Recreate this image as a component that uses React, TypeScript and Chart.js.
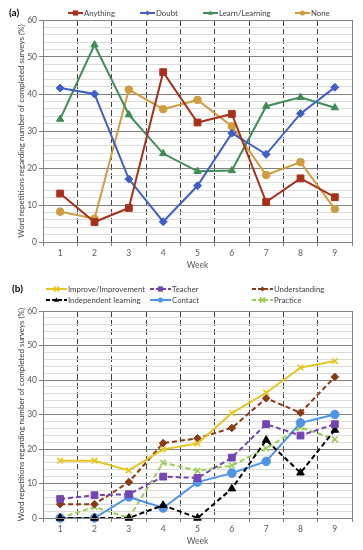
import React, { useEffect, useRef } from 'react';
import { Chart, registerables } from 'chart.js';

Chart.register(...registerables);

const FONT = 'Lato, "Liberation Sans", sans-serif';

// ---------- DATA ----------
const weeks = ['1', '2', '3', '4', '5', '6', '7', '8', '9'];

// Panel (a)
const anything = [13.1, 5.4, 9.2, 45.9, 32.3, 34.6, 10.8, 17.2, 12.1];
const doubt = [41.6, 40.0, 17.0, 5.5, 15.2, 29.4, 23.7, 34.7, 41.8];
const learning = [33.2, 53.3, 34.4, 23.9, 19.1, 19.3, 36.7, 39.1, 36.3];
const noneVals = [8.2, 6.3, 41.2, 35.9, 38.4, 31.3, 18.1, 21.6, 8.9];

// Panel (b)
const improve = [16.6, 16.6, 13.8, 19.9, 21.6, 30.4, 36.3, 43.6, 45.5];
const teacher = [5.5, 6.6, 6.9, 12.0, 11.6, 17.5, 27.2, 23.9, 27.2];
const understanding = [4.0, 4.0, 10.4, 21.7, 23.1, 26.1, 34.7, 30.5, 40.9];
const independent = [0, 0, 0, 3.7, 0, 8.5, 22.6, 13.1, 25.5];
const contact = [0, 0, 6.1, 2.9, 10.4, 13.0, 16.4, 27.6, 30.0];
const practice = [0, 3.2, 0, 16.0, 13.7, 15.2, 20.2, 26.3, 22.8];

const yTitle = 'Word repetitions regarding number of completed surveys (%)';

// ---------- helpers ----------
function drawMarker(ctx: CanvasRenderingContext2D, style: string, x: number, y: number, r: number, color: string) {
  ctx.save();
  ctx.setLineDash([]);
  ctx.fillStyle = color;
  ctx.strokeStyle = color;
  ctx.lineWidth = 1.5;
  ctx.beginPath();
  if (style === 'rect') {
    ctx.rect(x - r, y - r, 2 * r, 2 * r);
    ctx.fill();
  } else if (style === 'rectRot') {
    ctx.moveTo(x, y - r);
    ctx.lineTo(x + r, y);
    ctx.lineTo(x, y + r);
    ctx.lineTo(x - r, y);
    ctx.closePath();
    ctx.fill();
  } else if (style === 'triangle') {
    ctx.moveTo(x, y - r);
    ctx.lineTo(x + r * 0.95, y + r * 0.7);
    ctx.lineTo(x - r * 0.95, y + r * 0.7);
    ctx.closePath();
    ctx.fill();
  } else if (style === 'circle') {
    ctx.arc(x, y, r, 0, Math.PI * 2);
    ctx.fill();
  } else {
    ctx.moveTo(x - r, y - r);
    ctx.lineTo(x + r, y + r);
    ctx.moveTo(x + r, y - r);
    ctx.lineTo(x - r, y + r);
    ctx.stroke();
  }
  ctx.restore();
}

const customLegend = {
  id: 'customLegend',
  afterDraw(chart: any, _args: any, opts: any) {
    const ctx: CanvasRenderingContext2D = chart.ctx;
    ctx.save();
    ctx.textBaseline = 'middle';
    ctx.font = `bold 10px ${FONT}`;
    ctx.fillStyle = '#000';
    ctx.textAlign = 'left';
    ctx.fillText(opts.panel, opts.panelX, opts.panelY);
    ctx.font = `7.8px ${FONT}`;
    opts.items.forEach((it: any, i: number) => {
      const ds = chart.data.datasets[i];
      const w = opts.symbolWidth;
      ctx.save();
      ctx.strokeStyle = ds.borderColor;
      ctx.lineWidth = 2;
      ctx.setLineDash(ds.borderDash ? [4, 2] : []);
      ctx.beginPath();
      ctx.moveTo(it.x, it.y);
      ctx.lineTo(it.x + w, it.y);
      ctx.stroke();
      ctx.restore();
      drawMarker(ctx, ds.pointStyle, it.x + w / 2, it.y, 2.6, ds.pointBackgroundColor);
      ctx.fillStyle = '#404040';
      ctx.fillText(ds.label, it.x + w + 1, it.y);
    });
    ctx.restore();
  },
};

const frame = {
  id: 'frame',
  afterDatasetsDraw(chart: any) {
    const { ctx, chartArea: a } = chart;
    ctx.save();
    ctx.strokeStyle = '#808080';
    ctx.lineWidth = 1;
    ctx.strokeRect(Math.round(a.left) + 0.5, Math.round(a.top) + 0.5, Math.round(a.right - a.left), Math.round(a.bottom - a.top));
    ctx.restore();
  },
};

function ds(label: string, data: number[], color: string, style: string, radius: number, dashed: boolean) {
  return {
    label,
    data,
    borderColor: color,
    backgroundColor: color,
    pointBackgroundColor: color,
    pointBorderColor: color,
    pointStyle: style,
    pointRadius: radius,
    pointBorderWidth: style === 'crossRot' ? 1.6 : 1,
    borderWidth: 2,
    borderDash: dashed ? [5, 3] : undefined,
    tension: 0,
    clip: false as any,
  };
}

function makeOptions(padTop: number, padBottom: number, legendOpts: any) {
  return {
    responsive: false,
    animation: false as const,
    layout: { padding: { top: padTop, right: 11, left: 0, bottom: padBottom } },
    plugins: {
      legend: { display: false },
      tooltip: { enabled: false },
      customLegend: legendOpts,
    },
    scales: {
      x: {
        type: 'category' as const,
        offset: true,
        grid: {
          offset: true,
          color: '#404040',
          lineWidth: 1,
          drawTicks: true,
          tickLength: 4,
          tickColor: '#808080',
        },
        border: { dash: [6, 3], color: '#808080' },
        ticks: { color: '#595959', font: { family: FONT, size: 8.5 }, padding: 2, maxRotation: 0 },
        title: { display: true, text: 'Week', color: '#595959', font: { family: FONT, size: 8.5 }, padding: { top: 0, bottom: 0 } },
        afterFit: (s: any) => {
          s.height = 28;
        },
      },
      y: {
        min: 0,
        max: 60,
        ticks: {
          stepSize: 2,
          autoSkip: false,
          color: '#595959',
          font: { family: FONT, size: 8.5 },
          padding: 2,
          callback: (v: any) => (Number(v) % 10 === 0 ? String(v) : ''),
        },
        grid: {
          color: (c: any) => (c.tick && c.tick.value % 10 === 0 ? '#808080' : '#dcdcdc'),
          lineWidth: 1,
          tickLength: 4,
          tickColor: (c: any) => (c.tick && c.tick.value % 10 === 0 ? '#808080' : 'rgba(0,0,0,0)'),
        },
        border: { color: '#808080' },
        title: {
          display: true,
          text: yTitle,
          color: '#404040',
          font: { family: FONT, size: 8 },
          padding: { top: 16.5, bottom: 0 },
        },
        afterFit: (s: any) => {
          s.width = 43;
        },
      },
    },
  };
}

function PanelA() {
  const ref = useRef<HTMLCanvasElement>(null);
  useEffect(() => {
    const chart = new Chart(ref.current!, {
      type: 'line',
      data: {
        labels: weeks,
        datasets: [
          ds('Anything', anything, '#a8301a', 'rect', 4.8, false),
          ds('Doubt', doubt, '#3f5fc6', 'rectRot', 4, false),
          ds('Learn/Learning', learning, '#3f8c55', 'triangle', 4.2, false),
          ds('None', noneVals, '#d09c40', 'circle', 3.8, false),
        ],
      },
      options: makeOptions(20, 0, {
        panel: '(a)',
        panelX: 9,
        panelY: 13,
        symbolWidth: 15,
        items: [
          { x: 68, y: 13 },
          { x: 140, y: 13 },
          { x: 203, y: 13 },
          { x: 295, y: 13 },
        ],
      }) as any,
      plugins: [customLegend, frame],
    });
    return () => chart.destroy();
  }, []);
  return <canvas ref={ref} width={363} height={270} style={{ position: 'absolute', left: 0, top: 0, width: 363, height: 270 }} />;
}

function PanelB() {
  const ref = useRef<HTMLCanvasElement>(null);
  useEffect(() => {
    const chart = new Chart(ref.current!, {
      type: 'line',
      data: {
        labels: weeks,
        datasets: [
          ds('Improve/Improvement', improve, '#e6c620', 'crossRot', 4, false),
          ds('Teacher', teacher, '#7444b0', 'rect', 4.8, true),
          ds('Understanding', understanding, '#8a3a14', 'rectRot', 3.8, true),
          ds('Independent learning', independent, '#000000', 'triangle', 4.4, true),
          ds('Contact', contact, '#4f95e6', 'circle', 4.3, false),
          ds('Practice', practice, '#9acd55', 'crossRot', 4, true),
        ],
      },
      options: makeOptions(41, 4, {
        panel: '(b)',
        panelX: 12,
        panelY: 19,
        symbolWidth: 21,
        items: [
          { x: 46, y: 19 },
          { x: 150, y: 19 },
          { x: 252, y: 19 },
          { x: 46, y: 30 },
          { x: 150, y: 30 },
          { x: 252, y: 30 },
        ],
      }) as any,
      plugins: [customLegend, frame],
    });
    return () => chart.destroy();
  }, []);
  return <canvas ref={ref} width={363} height={280} style={{ position: 'absolute', left: 0, top: 270, width: 363, height: 280 }} />;
}

export default function App() {
  return (
    <div style={{ position: 'absolute', left: 0, top: 0, width: 363, height: 550, background: '#fff', overflow: 'hidden' }}>
      <PanelA />
      <PanelB />
    </div>
  );
}
